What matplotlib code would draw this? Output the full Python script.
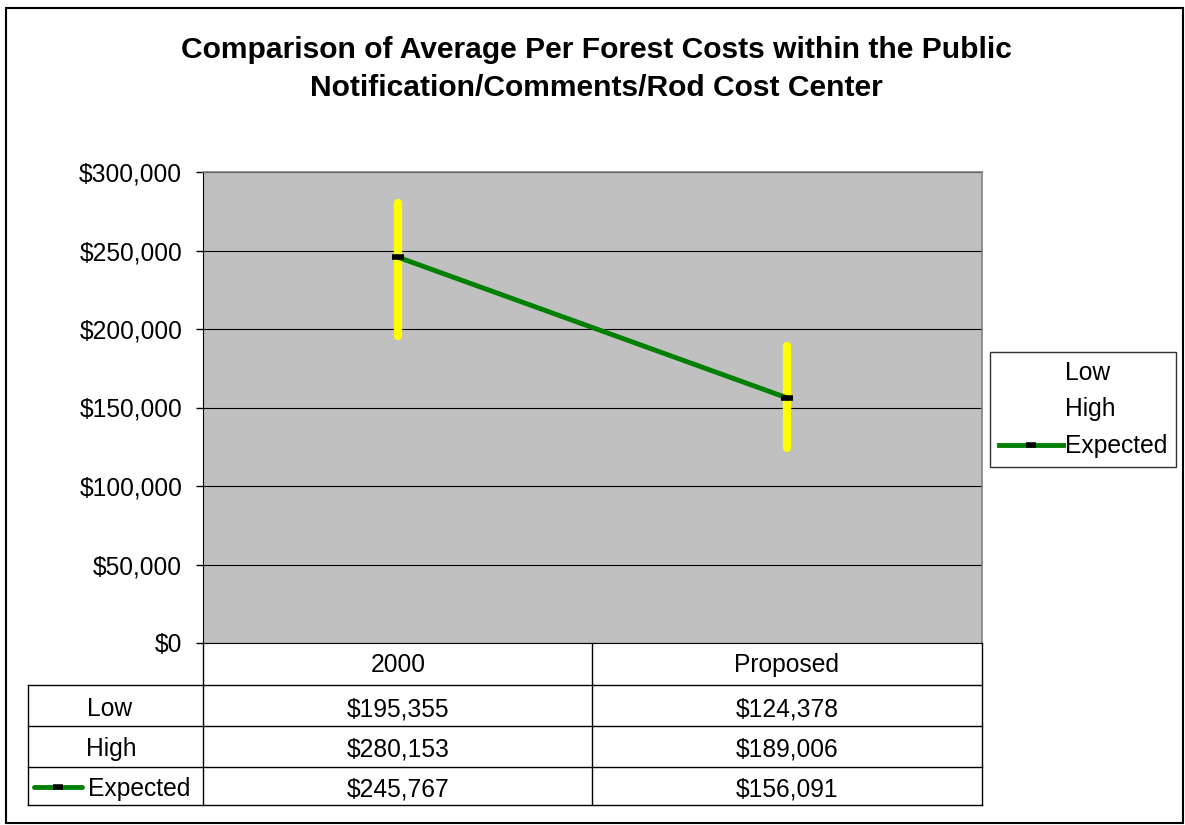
import numpy as np
import matplotlib.pyplot as plt
from matplotlib.lines import Line2D
from matplotlib.patches import Rectangle

plt.rcParams['font.family'] = ['Liberation Sans', 'DejaVu Sans']

# Dados
categorias = ["2000", "Proposed"]
low = [195355, 124378]
high = [280153, 189006]
expected = [245767, 156091]
series = ["Low", "High", "Expected"]
yticks = [0, 50000, 100000, 150000, 200000, 250000, 300000]

FS = 17.7

fig = plt.figure(figsize=(11.85, 8.25), dpi=100)
fig.patches.append(Rectangle((6 / 1185, 0.002), 1177 / 1185, 1 - 8 / 825 - 0.002,
                             transform=fig.transFigure, fill=False,
                             edgecolor="black", linewidth=1.5))

ax = fig.add_axes([203 / 1185, 1 - 643 / 825, 779 / 1185, 471 / 825])
ax.set_facecolor("#c0c0c0")
x = np.arange(len(categorias))

# Linhas high-low (amarelas)
for i in range(len(categorias)):
    ax.plot([x[i], x[i]], [low[i], high[i]], color="yellow", linewidth=6,
            solid_capstyle="round", zorder=3)

# Linha do valor esperado
ax.plot(x, expected, color="#008000", linewidth=3.5, marker="_", markersize=8,
        markeredgewidth=4, markeredgecolor="black", zorder=4)

ax.set_xlim(-0.5, 1.5)
ax.set_ylim(0, 300000)
ax.set_yticks(yticks)
ax.set_yticklabels([f"${v:,.0f}" for v in yticks], fontsize=FS)
ax.set_xticks([])
ax.grid(axis="y", color="black", linewidth=0.8)
ax.set_axisbelow(True)
ax.tick_params(axis="y", length=5, width=1, pad=10)
for s in ["top", "right"]:
    ax.spines[s].set_color("#808080")
    ax.spines[s].set_linewidth(1.2)
ax.spines["left"].set_color("black")
ax.spines["bottom"].set_color("black")

fig.text(596 / 1185, 1 - 69 / 825,
         "Comparison of Average Per Forest Costs within the Public\nNotification/Comments/Rod Cost Center",
         ha="center", va="center", fontsize=21.6, fontweight="bold", linespacing=1.45)

# Tabela de dados
def fy(py):
    return (643 - py) / 471

def fx(px):
    return (px - 203) / 779

kw = dict(transform=ax.transAxes, clip_on=False, color="black", linewidth=1)
for px in [203, 592, 982]:
    ax.plot([fx(px), fx(px)], [fy(643), fy(805)], **kw)
ax.plot([fx(28), fx(28)], [fy(685), fy(805)], **kw)
for py in [685, 726, 767, 805]:
    ax.plot([fx(28), fx(982)], [fy(py), fy(py)], **kw)

col_x = [fx(398), fx(787)]
for j, c in enumerate(categorias):
    ax.text(col_x[j], fy(665), c, transform=ax.transAxes, ha="center", va="center", fontsize=FS)

row_y = [fy(709), fy(749), fy(789)]
valores = [low, high, expected]
for r in range(3):
    for j in range(len(categorias)):
        ax.text(col_x[j], row_y[r], f"${valores[r][j]:,.0f}", transform=ax.transAxes,
                ha="center", va="center", fontsize=FS)

ax.text(fx(110), row_y[0], series[0], transform=ax.transAxes, ha="center", va="center", fontsize=FS)
ax.text(fx(111), row_y[1], series[1], transform=ax.transAxes, ha="center", va="center", fontsize=FS)
ax.text(fx(88), row_y[2], series[2], transform=ax.transAxes, ha="left", va="center", fontsize=FS)
ax.plot([fx(34), fx(82)], [fy(787), fy(787)], transform=ax.transAxes, clip_on=False,
        color="#008000", linewidth=3.5, solid_capstyle="round")
ax.plot([fx(58)], [fy(787)], transform=ax.transAxes, clip_on=False, marker="_",
        markersize=7, markeredgewidth=4, color="black")

# Legenda
handles = [Line2D([], [], linestyle="none"),
           Line2D([], [], linestyle="none"),
           Line2D([], [], color="#008000", linewidth=3.5, marker="_", markersize=7,
                  markeredgewidth=4, markeredgecolor="black")]
leg = fig.legend(handles, series, loc="upper left",
                 bbox_to_anchor=(990 / 1185, 1 - 352 / 825), fontsize=FS,
                 frameon=True, fancybox=False, edgecolor="black", handlelength=2.6,
                 handletextpad=0.1, labelspacing=0.52, borderpad=0.35, borderaxespad=0)
leg.get_frame().set_linewidth(1)

fig.savefig("out.png", dpi=100)
